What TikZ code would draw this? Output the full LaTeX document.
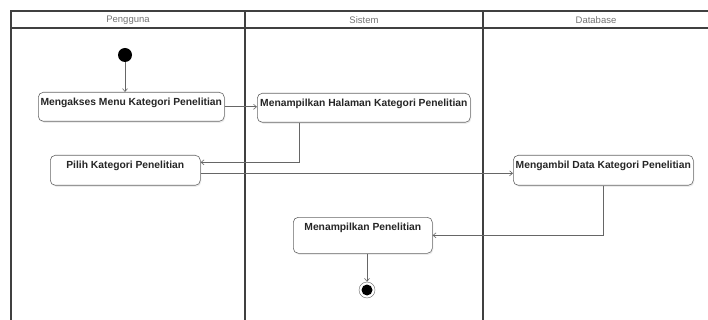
\documentclass[tikz,border=0pt]{standalone}
\usepackage{fontspec}
\setmainfont{Liberation Sans}
\usetikzlibrary{arrows.meta,shadows,calc}
\begin{document}
\begin{tikzpicture}[x=1pt,y=-1pt,
  lane/.style={draw=black!75, line width=1.3pt},
  lanetitle/.style={text=black!55, font=\fontsize{9.5}{10}\selectfont},
  action/.style={draw=black!60, line width=0.6pt, rounded corners=5pt, fill=white,
    drop shadow={opacity=0.15, shadow xshift=1pt, shadow yshift=-1.5pt},
    font=\bfseries\fontsize{10.3}{11}\selectfont, text=black!85,
    inner xsep=0pt, inner ysep=2pt, text height=11pt, anchor=north west},
  flow/.style={draw=black!60, line width=0.6pt, -{Straight Barb[length=3pt,width=5pt]}},
  initial/.style={circle, fill=black, minimum size=14pt, inner sep=0pt},
  final/.style={circle, draw=black!60, fill=white, minimum size=16pt, inner sep=0pt,
    path picture={\fill[black] (path picture bounding box.center) circle (5.5pt);}}
]
\useasboundingbox (0,0) rectangle (708,320);

% swimlane frame
\draw[lane] (11,320) -- (11,11) -- (708,11);
\draw[lane] (11,28) -- (708,28);
\draw[lane] (245,11) -- (245,320);
\draw[lane] (483,11) -- (483,320);

\node[lanetitle] (t1) at (128,20) {Pengguna};
\node[lanetitle] (t2) at (364,20) {Sistem};
\node[lanetitle] (t3) at (596,20) {Database};

% activities
\node[action, minimum width=186pt, text depth=14pt] (A) at (38,92) {Mengakses Menu Kategori Penelitian};
\node[action, minimum width=213pt, text depth=14pt] (B) at (257,93) {Menampilkan Halaman Kategori Penelitian};
\node[action, minimum width=150pt, text depth=15pt] (C) at (50,155) {Pilih Kategori Penelitian};
\node[action, minimum width=180pt, text depth=15pt] (D) at (513,155) {Mengambil Data Kategori Penelitian};
\node[action, minimum width=139pt, text depth=21pt] (E) at (293,217) {Menampilkan Penelitian};

\node[initial] (s) at (125,55) {};
\node[final] (f) at (367,290) {};

% control flow
\draw[flow] (s) -- (s |- A.north);
\draw[flow] (A.east) -- (A.east -| B.west);
\draw[flow] ($(B.south west)!0.197!(B.south east)$) |- ([yshift=8pt]C.east);
\draw[flow] ([yshift=-3pt]C.east) -- ([yshift=-3pt]C.east -| D.west);
\draw[flow] (D.south) |- (E.east);
\draw[flow] (E.south -| f) -- (f);
\end{tikzpicture}
\end{document}
